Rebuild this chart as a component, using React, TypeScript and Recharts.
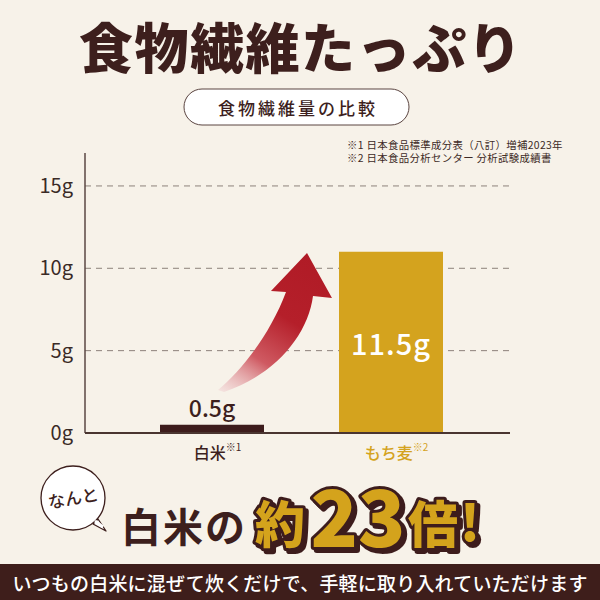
import React from "react";
import { BarChart, Bar, XAxis, YAxis, CartesianGrid, Cell, LabelList } from "recharts";

const categories = ["白米", "もち麦"];
const notes = ["※1", "※2"];
const barValues = [0.5, 11];
const valueLabels = ["0.5g", "11.5g"];
const yTicks = [0, 5, 10, 15];
const gridValues = [5, 10, 15];
const sources = ["※1 日本食品標準成分表（八訂）増補2023年", "※2 日本食品分析センター 分析試験成績書"];

const BG = "#f7f2e9";
const DARK = "#3d1f1d";
const GOLD = "#d4a31e";
const catColors = [DARK, GOLD];
const barColors = ["#3d1c1c", GOLD];
const FONT = "'Noto Sans CJK JP', 'Noto Sans', sans-serif";

const data = categories.map((name, i) => ({ name, value: barValues[i], label: valueLabels[i], note: notes[i] }));

const CatTick = (props: any) => {
  const { x, y, payload, index } = props;
  const i = typeof index === "number" ? index : categories.indexOf(payload.value);
  return (
    <text x={x + 6} y={y + 19} textAnchor="middle" dominantBaseline="central" fontFamily={FONT} fontWeight={500} fontSize={16} fill={catColors[i]}>
      {payload.value}
      <tspan fontSize={10} fontWeight={400} dy={-6} dx={0}>{notes[i]}</tspan>
    </text>
  );
};

const ValueLabel = (props: any) => {
  const { x, y, width, height, index } = props;
  const cx = x + width / 2;
  if (index === 0) {
    return (
      <text x={cx} y={y - 18} textAnchor="middle" dominantBaseline="central" fontFamily={FONT} fontWeight={500} fontSize={23} fill={DARK}>
        {valueLabels[index]}
      </text>
    );
  }
  return (
    <text x={cx} y={y + height / 2} textAnchor="middle" dominantBaseline="central" fontFamily={FONT} fontWeight={500} fontSize={29} fill="#ffffff" letterSpacing={1}>
      {valueLabels[index]}
    </text>
  );
};

const big = [
  { t: "約", x: 280, y: 521, s: 50 },
  { t: "23", x: 358, y: 513, s: 78 },
  { t: "倍", x: 433, y: 521, s: 50 },
  { t: "!", x: 470, y: 519, s: 50 },
];

const Overlay = () => (
  <svg width={600} height={600} style={{ position: "absolute", left: 0, top: 0, pointerEvents: "none" }} fontFamily={FONT}>
    <defs>
      <linearGradient id="arrowGrad" gradientUnits="userSpaceOnUse" x1={218} y1={392} x2={307} y2={253}>
        <stop offset="0" stopColor="#f3d9da" stopOpacity={0.5} />
        <stop offset="0.3" stopColor="#cf5a62" />
        <stop offset="0.6" stopColor="#b51f2a" />
        <stop offset="1" stopColor="#b01b26" />
      </linearGradient>
      <filter id="shadow" x="-20%" y="-20%" width="140%" height="140%">
        <feDropShadow dx={3} dy={3} stdDeviation={0} floodColor={DARK} floodOpacity={1} />
      </filter>
    </defs>
    <text x={301} y={45} textAnchor="middle" dominantBaseline="central" fontSize={54} fontWeight={900} fill={DARK} letterSpacing={1.5}>
      食物繊維たっぷり
    </text>
    <rect x={184} y={89} width={225} height={36} rx={18} fill="#ffffff" stroke="#5a4440" strokeWidth={1} />
    <text x={298} y={107} textAnchor="middle" dominantBaseline="central" fontSize={17} fontWeight={500} fill={DARK} letterSpacing={3}>
      食物繊維量の比較
    </text>
    {sources.map((s, i) => (
      <text key={i} x={347} y={144 + i * 13} dominantBaseline="central" fontSize={10.4} fill="#3d2a26" letterSpacing={0.35}>
        {s}
      </text>
    ))}
    <path
      d="M 218 390 C 240 372 270 335 286 292 L 271 291 L 307 253 L 332 298 L 313 296 C 308 335 275 375 224 392 Z"
      fill="url(#arrowGrad)"
    />
    <path d="M 98 519 L 106 531 L 93 524 Z" fill="#ffffff" stroke={DARK} strokeWidth={1.3} strokeLinejoin="round" />
    <circle cx={73} cy={498} r={32} fill="#ffffff" stroke={DARK} strokeWidth={1.3} />
    <path d="M 95 521 L 103 527" stroke="#ffffff" strokeWidth={3} />
    <text x={73} y={497} textAnchor="middle" dominantBaseline="central" fontSize={17} fontWeight={500} fill={DARK} transform="rotate(-10 73 497)">
      なんと
    </text>
    <text x={121} y={525} dominantBaseline="central" fontSize={40} fontWeight={700} fill={DARK} letterSpacing={2}>
      白米の
    </text>
    <g fontWeight={900} textAnchor="middle" dominantBaseline="central" filter="url(#shadow)">
      {big.map((d, i) => (
        <text key={i} x={d.x} y={d.y} fontSize={d.s} fill={GOLD} stroke={DARK} strokeWidth={6} strokeLinejoin="round" paintOrder="stroke">
          {d.t}
        </text>
      ))}
    </g>
    <rect x={0} y={564} width={600} height={36} fill="#3e1e1b" />
    <text x={300} y={582} textAnchor="middle" dominantBaseline="central" fontSize={19} fontWeight={500} fill="#ffffff" letterSpacing={0.2}>
      いつもの白米に混ぜて炊くだけで、手軽に取り入れていただけます
    </text>
  </svg>
);

export default function App() {
  return (
    <div style={{ position: "absolute", left: 0, top: 0, width: 600, height: 600, background: BG, overflow: "hidden" }}>
      <BarChart width={600} height={600} data={data} margin={{ top: 153, right: 90, left: 0, bottom: 137 }} style={{ fontFamily: FONT }}>
        <CartesianGrid vertical={false} stroke="#8d827b" strokeDasharray="6 5" horizontalValues={gridValues} />
        <YAxis
          width={85}
          domain={[0, 17]}
          ticks={yTicks}
          tickFormatter={(v: number) => `${v}g`}
          tickLine={false}
          tickSize={0}
          tickMargin={12}
          axisLine={{ stroke: "#5b4743", strokeWidth: 1.5 }}
          tick={{ fill: "#3a2a26", fontSize: 20, fontFamily: FONT }}
        />
        <XAxis
          dataKey="name"
          padding={{ left: 37, right: 30 }}
          height={30}
          tickLine={false}
          tickSize={0}
          tickMargin={0}
          axisLine={{ stroke: "#4a3530", strokeWidth: 2 }}
          tick={<CatTick />}
          interval={0}
        />
        <Bar dataKey="value" barSize={104} isAnimationActive={false}>
          {data.map((d, i) => (
            <Cell key={d.name} fill={barColors[i]} />
          ))}
          <LabelList dataKey="label" content={<ValueLabel />} />
        </Bar>
      </BarChart>
      <Overlay />
    </div>
  );
}
